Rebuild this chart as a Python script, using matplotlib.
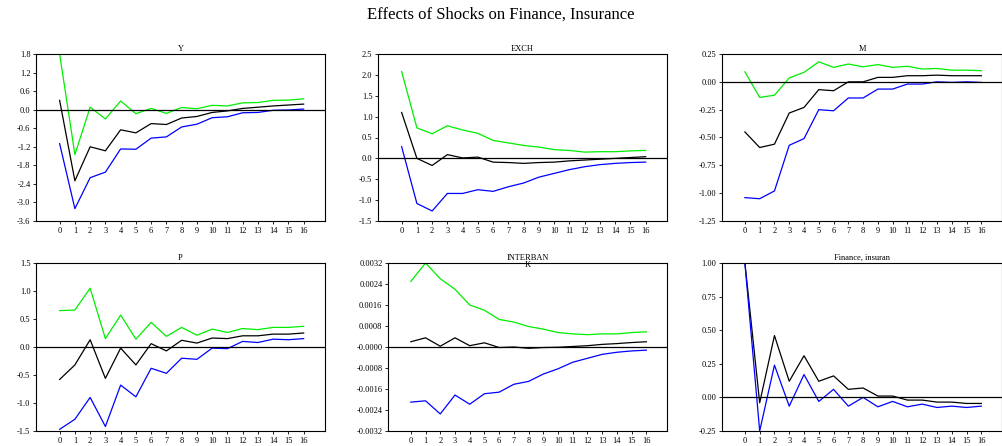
import numpy as np
import matplotlib.pyplot as plt

plt.rcParams['font.family'] = ['Liberation Serif', 'DejaVu Serif']

steps = np.arange(17)

# Y
y_mid = [0.3, -2.3, -1.2, -1.33, -0.65, -0.75, -0.45, -0.48, -0.27, -0.22, -0.09, -0.04, 0.04, 0.08, 0.12, 0.15, 0.18]
y_up = [1.8, -1.45, 0.08, -0.3, 0.28, -0.13, 0.04, -0.12, 0.07, 0.03, 0.14, 0.12, 0.22, 0.23, 0.3, 0.31, 0.35]
y_lo = [-1.1, -3.2, -2.2, -2.02, -1.27, -1.28, -0.92, -0.88, -0.56, -0.47, -0.26, -0.23, -0.1, -0.09, -0.02, -0.01, 0.02]

# EXCH
e_mid = [1.1, 0.0, -0.17, 0.09, 0.01, 0.03, -0.09, -0.1, -0.12, -0.1, -0.09, -0.06, -0.04, -0.02, 0.0, 0.02, 0.04]
e_up = [2.08, 0.73, 0.59, 0.78, 0.68, 0.6, 0.43, 0.37, 0.31, 0.27, 0.21, 0.19, 0.15, 0.16, 0.16, 0.18, 0.19]
e_lo = [0.28, -1.08, -1.26, -0.84, -0.84, -0.75, -0.79, -0.68, -0.59, -0.45, -0.36, -0.27, -0.2, -0.15, -0.12, -0.1, -0.09]

# M
m_mid = [-0.45, -0.59, -0.56, -0.28, -0.23, -0.07, -0.08, 0.0, 0.0, 0.04, 0.04, 0.055, 0.055, 0.06, 0.055, 0.055, 0.055]
m_up = [0.09, -0.14, -0.12, 0.035, 0.085, 0.18, 0.13, 0.16, 0.135, 0.155, 0.13, 0.14, 0.115, 0.12, 0.105, 0.105, 0.1]
m_lo = [-1.04, -1.05, -0.98, -0.57, -0.51, -0.25, -0.26, -0.145, -0.145, -0.065, -0.065, -0.02, -0.02, 0.0, -0.005, 0.0, -0.005]

# P
p_mid = [-0.58, -0.32, 0.13, -0.56, -0.02, -0.32, 0.06, -0.07, 0.12, 0.07, 0.16, 0.15, 0.2, 0.2, 0.23, 0.23, 0.25]
p_up = [0.65, 0.66, 1.05, 0.15, 0.57, 0.14, 0.44, 0.19, 0.35, 0.21, 0.32, 0.26, 0.33, 0.31, 0.35, 0.35, 0.37]
p_lo = [-1.47, -1.29, -0.9, -1.42, -0.68, -0.89, -0.38, -0.47, -0.2, -0.22, -0.02, -0.03, 0.1, 0.08, 0.14, 0.13, 0.15]

# INTERBANK
i_mid = [0.0002, 0.00035, 0.00003, 0.00035, 0.00005, 0.00016, -0.00002, 0.0, -0.00005, -0.00002, -0.00001, 0.00002, 0.00005, 0.0001, 0.00013, 0.00017, 0.0002]
i_up = [0.0025, 0.0032, 0.0026, 0.0022, 0.0016, 0.0014, 0.00105, 0.00095, 0.00078, 0.00068, 0.00055, 0.0005, 0.00047, 0.0005, 0.0005, 0.00055, 0.00058]
i_lo = [-0.0021, -0.00205, -0.00255, -0.00183, -0.00218, -0.00178, -0.00172, -0.00142, -0.00131, -0.00103, -0.00083, -0.00058, -0.00043, -0.00028, -0.0002, -0.00015, -0.00012]

# Finance, insurance
f_mid = [1.0, -0.04, 0.46, 0.12, 0.31, 0.12, 0.16, 0.06, 0.07, 0.01, 0.01, -0.02, -0.02, -0.035, -0.035, -0.045, -0.045]
f_lo = [1.0, -0.25, 0.24, -0.065, 0.17, -0.03, 0.06, -0.065, 0.0, -0.07, -0.03, -0.07, -0.05, -0.075, -0.065, -0.075, -0.065]

panels = [
    ('Y', [y_mid, y_up, y_lo], (-3.6, 1.8), np.arange(-3.6, 1.81, 0.6), '%.1f', (36, 54, 289, 167)),
    ('EXCH', [e_mid, e_up, e_lo], (-1.5, 2.5), np.arange(-1.5, 2.51, 0.5), '%.1f', (378, 54, 289, 167)),
    ('M', [m_mid, m_up, m_lo], (-1.25, 0.25), np.arange(-1.25, 0.26, 0.25), '%.2f', (722, 54, 280, 167)),
    ('P', [p_mid, p_up, p_lo], (-1.5, 1.5), np.arange(-1.5, 1.51, 0.5), '%.1f', (36, 263, 289, 168)),
    ('INTERBAN\nK', [i_mid, i_up, i_lo], (-0.0032, 0.0032), np.arange(-0.0032, 0.00321, 0.0008), '%.4f', (388, 263, 279, 168)),
    ('Finance, insuran', [f_mid, None, f_lo], (-0.25, 1.0), np.arange(-0.25, 1.01, 0.25), '%.2f', (722, 263, 280, 168)),
]

W, H = 1002, 446
fig = plt.figure(figsize=(W / 100, H / 100), dpi=100)
fig.suptitle('Effects of Shocks on Finance, Insurance', fontsize=12, y=0.985)

for title, (mid, up, lo), ylim, ticks, fmt, (x, y, w, h) in panels:
    ax = fig.add_axes([x / W, 1 - (y + h) / H, w / W, h / H])
    ax.plot(steps, mid, color='black', lw=0.9)
    if up is not None:
        ax.plot(steps, up, color='#00ee00', lw=0.9)
    ax.plot(steps, lo, color='blue', lw=0.9)
    ax.axhline(0, color='black', lw=0.9)
    ax.set_xlim(-1.55, 17.4)
    ax.set_ylim(*ylim)
    ax.set_yticks(ticks)
    if title.startswith('INTERBAN'):
        labels = ['-0.0000' if abs(t) < 1e-9 else fmt % t for t in ticks]
    else:
        labels = [fmt % (0 if abs(t) < 1e-9 else t) for t in ticks]
    ax.set_yticklabels(labels)
    ax.set_xticks(steps)
    ax.tick_params(labelsize=6, length=2, width=0.6, pad=2)
    for s in ax.spines.values():
        s.set_linewidth(0.8)
    ax.text(0.5, 1.0 + 9 / h, title, transform=ax.transAxes, ha='center', va='top',
            fontsize=6, linespacing=0.9)

fig.savefig('out.png', dpi=100)
